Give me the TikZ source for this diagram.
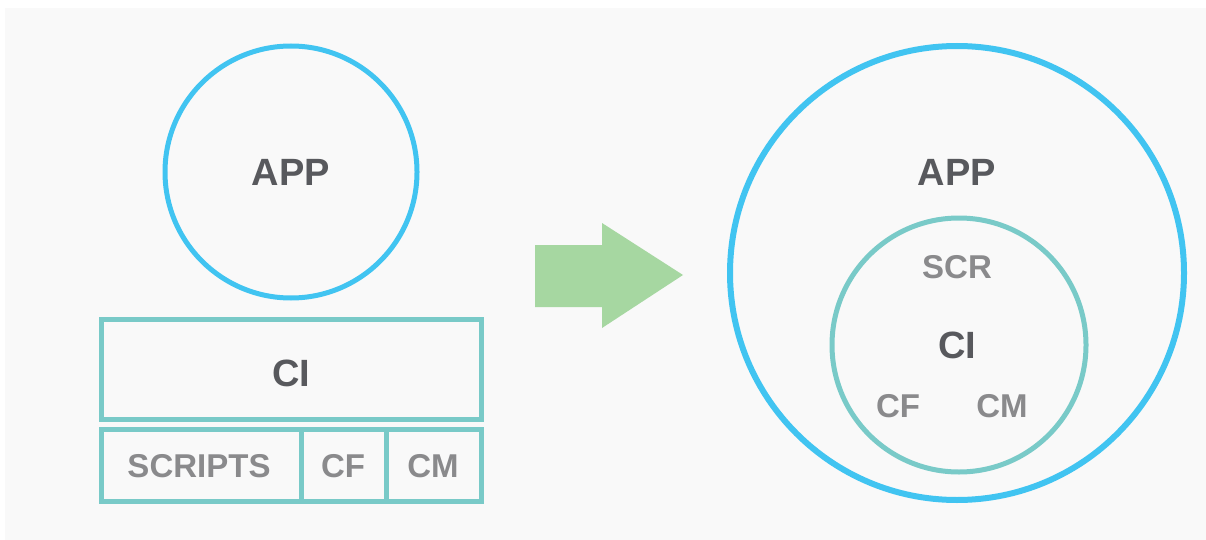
\documentclass[tikz,border=0pt]{standalone}
\usepackage{fontspec}
\setmainfont{Liberation Sans}
\definecolor{appblue}{HTML}{41C4F1}
\definecolor{citeal}{HTML}{79CAC8}
\definecolor{arrowgreen}{HTML}{A6D7A1}
\definecolor{darktxt}{HTML}{58595D}
\definecolor{lighttxt}{HTML}{8A8A8C}
\definecolor{bggray}{HTML}{F9F9F9}
\tikzset{
  bigtxt/.style={text=darktxt, font=\bfseries\fontsize{38}{41}\selectfont, inner sep=0pt},
  smalltxt/.style={text=lighttxt, font=\bfseries\fontsize{33}{36}\selectfont, inner sep=0pt},
  bluering/.style={draw=appblue, line width=5pt},
  tealline/.style={draw=citeal, line width=5pt},
}
\begin{document}
\begin{tikzpicture}[x=1pt,y=-1pt]
\useasboundingbox (0,0) rectangle (1206,540);
\fill[white] (0,0) rectangle (1206,540);
\fill[bggray] (5,8) rectangle (1206,540);
% left side
\draw[bluering] (291,172) circle (126);
\node[bigtxt] (appL) at (291,172) {APP};
\draw[tealline] (101,319) rectangle (481,419);
\node[bigtxt] (ciL) at (291,373) {CI};
\draw[tealline] (101,429) rectangle (481,501);
\draw[tealline] (301,429) -- (301,501);
\draw[tealline] (386,429) -- (386,501);
\node[smalltxt] (scripts) at (199,466) {SCRIPTS};
\node[smalltxt] (cfL) at (343,466) {CF};
\node[smalltxt] (cmL) at (433,466) {CM};
% arrow
\fill[arrowgreen] (535,245) -- (602,245) -- (602,223) -- (683,275) -- (602,328) -- (602,307) -- (535,307) -- cycle;
% right side
\draw[draw=appblue, line width=6pt] (957,273) circle (227);
\node[bigtxt] (appR) at (957,172) {APP};
\draw[tealline] (959,345) circle (127);
\node[smalltxt] (scr) at (957,267) {SCR};
\node[bigtxt] (ciR) at (957,345) {CI};
\node[smalltxt] (cfR) at (898,406) {CF};
\node[smalltxt] (cmR) at (1002,406) {CM};
\end{tikzpicture}
\end{document}
